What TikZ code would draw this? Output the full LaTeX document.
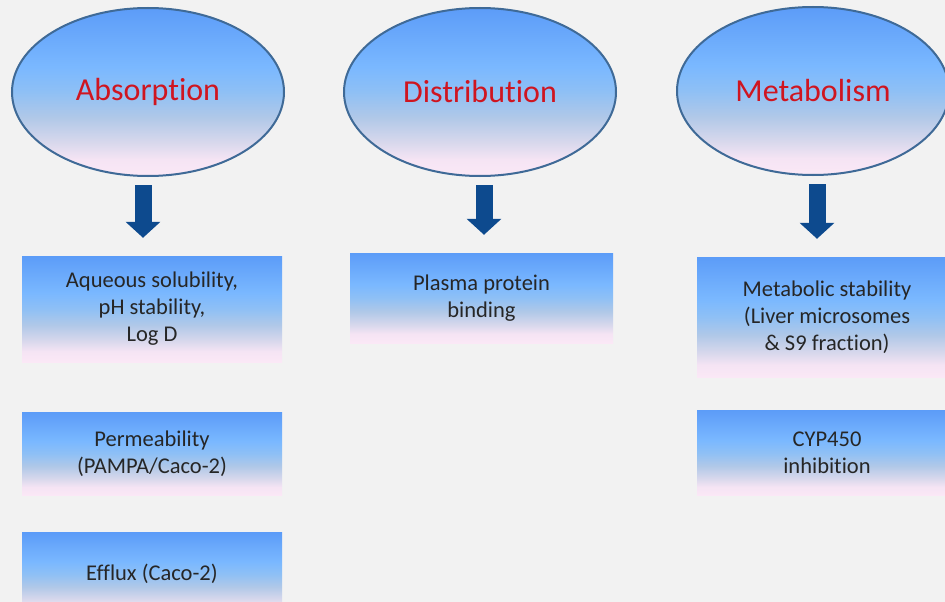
\documentclass[tikz,border=0pt]{standalone}
\usepackage{fontspec}
\setmainfont{Carlito}[Ligatures=NoCommon]
\usetikzlibrary{arrows.meta,shapes.geometric,positioning}
\definecolor{bgcol}{HTML}{F2F2F2}
\definecolor{topblue}{HTML}{5C9CF8}
\definecolor{lightblue}{HTML}{7AB8FF}
\definecolor{paleblue}{HTML}{8FC0F5}
\definecolor{greyblue}{HTML}{B0C8E8}
\definecolor{greylilac}{HTML}{D8D8EC}
\definecolor{greypink}{HTML}{F5E4F4}
\definecolor{lowpink}{HTML}{FBE8F6}
\definecolor{rimblue}{HTML}{3F6A97}
\definecolor{arrowblue}{HTML}{0D4A8E}
\definecolor{titlered}{HTML}{CF1520}
\definecolor{bodytext}{HTML}{262626}
\pgfdeclareverticalshading{skyfade}{100bp}{color(0bp)=(lowpink); color(25bp)=(lowpink);
	color(30bp)=(greypink); color(35bp)=(greylilac); color(42.5bp)=(greyblue); color(50bp)=(paleblue);
	color(57.5bp)=(lightblue); color(75bp)=(topblue); color(100bp)=(topblue)}
\tikzset{%
	phase/.style={ellipse, draw=rimblue, line width=2pt, minimum width=272pt, minimum height=168pt, inner sep=0pt,
		shading=skyfade, text=titlered, font=\fontsize{32}{38}\selectfont},
	assay/.style={rectangle, minimum width=260pt, inner sep=0pt, align=center,
		shading=skyfade, text=bodytext, font=\fontsize{22.5}{27}\selectfont},
	bigarrow/.style={draw=arrowblue, line width=17pt, -{Triangle[width=34pt,length=16pt]}, arrowblue,
		shorten <=8pt, shorten >=18pt}
}
\begin{document}
\begin{tikzpicture}[x=1pt,y=-1pt]
\useasboundingbox (0,0) rectangle (945,602);
\clip (0,0) rectangle (945,602);
\fill[bgcol] (0,0) rectangle (945,602);

% the three phases
\node (absorption) [phase] at (148,92) {Absorption};
\node (distribution) [phase] at (480,92) {Distribution};
\node (metabolism) [phase] at (813,91) {Metabolism};

% assays
\node (a_sol) [assay, minimum height=106pt] at (152,309) {Aqueous solubility,\\pH stability,\\Log D};
\node (a_perm) [assay, minimum height=83pt, below=50pt of a_sol] {Permeability\\(PAMPA/Caco-2)};
\node (a_efflux) [assay, minimum height=83pt, below=37pt of a_perm] {Efflux (Caco-2)};
\node (d_ppb) [assay, minimum width=263pt, minimum height=90pt] at (481.5,298) {Plasma protein\\binding};
\node (m_stab) [assay, minimum height=120pt] at (827,317) {Metabolic stability\\(Liver microsomes\\\& S9 fraction)};
\node (m_cyp) [assay, minimum height=85pt, below=33pt of m_stab] {CYP450\\inhibition};

\draw[bigarrow] ([xshift=-5pt]absorption.south) -- ([xshift=-5pt]absorption.south |- a_sol.north);
\draw[bigarrow] ([xshift=4pt]distribution.south) -- ([xshift=4pt]distribution.south |- d_ppb.north);
\draw[bigarrow] ([xshift=4pt]metabolism.south) -- ([xshift=4pt]metabolism.south |- m_stab.north);

\end{tikzpicture}
\end{document}
